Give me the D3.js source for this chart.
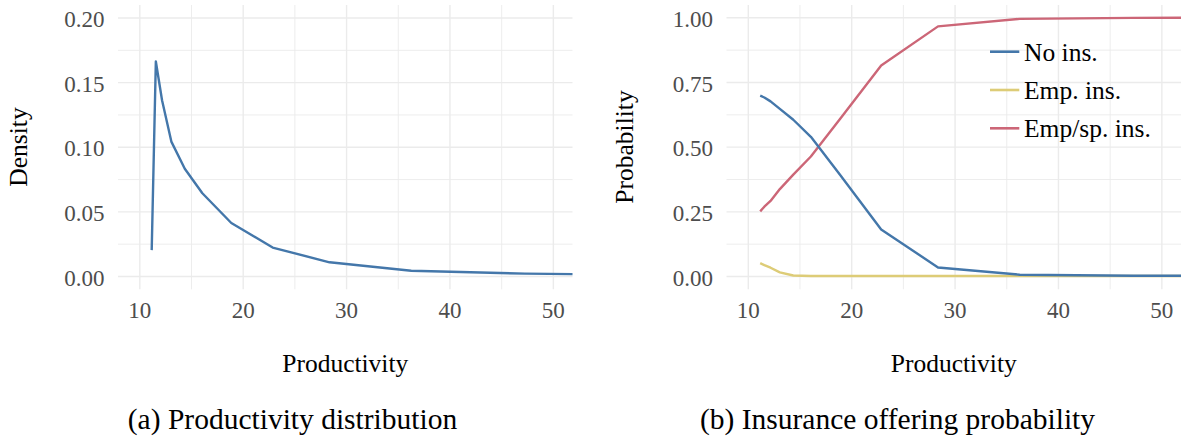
<!DOCTYPE html>
<html>
<head>
<meta charset="utf-8">
<script src="https://cdn.jsdelivr.net/npm/d3@7"></script>
<style>
  body { margin: 0; background: #fff; }
  svg text { font-family: "Liberation Serif", "DejaVu Serif", serif; font-variant-numeric: oldstyle-nums; }
</style>
</head>
<body>
<div id="chart"></div>
<script>
// Productivity grid (shared by both panels)
const productivity = [11.2, 11.6, 12.2, 13.1, 14.4, 16.1, 18.9, 22.9, 28.4, 36.3, 47.3, 63.0];

// Panel (a): density
const density = [0.020, 0.166, 0.136, 0.104, 0.083, 0.064, 0.041, 0.022, 0.0106, 0.0041, 0.0018, 0.0007];

// Panel (b): offering probabilities
const seriesNames = ['No ins.', 'Emp. ins.', 'Emp/sp. ins.'];
const noIns = [0.697, 0.690, 0.675, 0.646, 0.604, 0.538, 0.392, 0.180, 0.033, 0.005, 0.001, 0.000];
const empIns = [0.050, 0.042, 0.032, 0.014, 0.002, 0.000, 0.000, 0.000, 0.000, 0.000, 0.000, 0.000];
const empSpIns = [0.250, 0.268, 0.290, 0.336, 0.392, 0.462, 0.606, 0.814, 0.965, 0.994, 0.998, 0.999];

const xTicks = [10, 20, 30, 40, 50];
const xMinor = [15, 25, 35, 45];
const densityTicks = [0, 0.05, 0.10, 0.15, 0.20];
const densityMinor = [0.025, 0.075, 0.125, 0.175];
const probTicks = [0, 0.25, 0.5, 0.75, 1.0];
const probMinor = [0.125, 0.375, 0.625, 0.875];

const captions = ['(a) Productivity distribution', '(b) Insurance offering probability'];

const Theme = {
  blue: '#4477AA',
  yellow: '#DDCC77',
  red: '#CC6677',
  grid: '#EBEBEB',
  tick: '#4D4D4D',
  font: '"Liberation Serif", "DejaVu Serif", serif'
};

const width = 1182, height = 437;
const svg = d3.select('#chart').append('svg')
  .attr('width', width)
  .attr('height', height);

/**
 * Draws one panel with grid, axes, and titles.
 */
function drawPanel(opts) {
  const x = d3.scaleLinear().domain([7.94, 51.9]).range([0, opts.w]);
  const y = d3.scaleLinear().domain(opts.yDomain).range([opts.h, 0]);

  const g = svg.append('g')
      .attr('transform', `translate(${opts.left}, ${opts.top})`);

  // Minor grid
  g.append('g')
      .call(d3.axisLeft(y).tickValues(opts.yMinor).tickSize(-opts.w).tickFormat(''))
      .call(a => a.select('.domain').remove())
      .selectAll('line').attr('stroke', Theme.grid).attr('stroke-width', 0.9);
  g.append('g')
      .attr('transform', `translate(0, ${opts.h})`)
      .call(d3.axisBottom(x).tickValues(xMinor).tickSize(-opts.h).tickFormat(''))
      .call(a => a.select('.domain').remove())
      .selectAll('line').attr('stroke', Theme.grid).attr('stroke-width', 0.9);

  // Major grid
  g.append('g')
      .call(d3.axisLeft(y).tickValues(opts.yTicks).tickSize(-opts.w).tickFormat(''))
      .call(a => a.select('.domain').remove())
      .selectAll('line').attr('stroke', Theme.grid).attr('stroke-width', 1.4);
  g.append('g')
      .attr('transform', `translate(0, ${opts.h})`)
      .call(d3.axisBottom(x).tickValues(xTicks).tickSize(-opts.h).tickFormat(''))
      .call(a => a.select('.domain').remove())
      .selectAll('line').attr('stroke', Theme.grid).attr('stroke-width', 1.4);

  // Tick labels
  g.append('g')
      .attr('font-family', Theme.font)
      .call(d3.axisLeft(y).tickValues(opts.yTicks).tickSize(0).tickPadding(13.5).tickFormat(d3.format('.2f')))
      .attr('font-family', Theme.font)
      .call(a => a.select('.domain').remove())
      .selectAll('text')
        .attr('dy', '0.4em')
        .attr('fill', Theme.tick)
        .style('font-family', Theme.font)
        .style('font-size', '23px');
  g.append('g')
      .attr('transform', `translate(0, ${opts.h})`)
      .call(d3.axisBottom(x).tickValues(xTicks).tickSize(0).tickPadding(12))
      .attr('font-family', Theme.font)
      .call(a => a.select('.domain').remove())
      .selectAll('text')
        .attr('fill', Theme.tick)
        .style('font-family', Theme.font)
        .style('font-size', '23px');

  // Axis titles
  g.append('text')
      .attr('x', opts.w / 2)
      .attr('y', 371.5 - opts.top)
      .attr('text-anchor', 'middle')
      .style('font-size', '25.5px')
      .text('Productivity');
  g.append('text')
      .attr('transform', `translate(${opts.yTitleX - opts.left}, ${147 - opts.top}) rotate(-90)`)
      .attr('text-anchor', 'middle')
      .style('font-size', '25.5px')
      .text(opts.yTitle);

  // Caption
  svg.append('text')
      .attr('x', opts.captionX)
      .attr('y', 429)
      .attr('text-anchor', 'middle')
      .style('font-size', '29.5px')
      .text(opts.caption);

  // Clip
  g.append('clipPath')
      .attr('id', opts.id + '-clip')
    .append('rect')
      .attr('width', opts.w)
      .attr('height', opts.h);

  const plot = g.append('g').attr('clip-path', `url(#${opts.id}-clip)`);
  return {x, y, g, plot};
}

// Panel (a)
const pa = drawPanel({
  id: 'pa', left: 118, top: 5, w: 454.5, h: 284.3,
  yDomain: [-0.0103, 0.2097], yTicks: densityTicks, yMinor: densityMinor,
  yTitle: 'Density', yTitleX: 26.5,
  caption: captions[0], captionX: 292.5
});

const lineA = d3.line()
  .x((d, i) => pa.x(productivity[i]))
  .y(d => pa.y(d));

pa.plot.append('path')
    .datum(density)
    .attr('d', lineA)
    .attr('fill', 'none')
    .attr('stroke', Theme.blue)
    .attr('stroke-width', 2.4)
    .attr('stroke-linejoin', 'round');

// Panel (b)
const pb = drawPanel({
  id: 'pb', left: 726.5, top: 5, w: 454.5, h: 284.3,
  yDomain: [-0.0514, 1.0476], yTicks: probTicks, yMinor: probMinor,
  yTitle: 'Probability', yTitleX: 633,
  caption: captions[1], captionX: 897.5
});

const seriesValues = [noIns, empIns, empSpIns];
const seriesColors = [Theme.blue, Theme.yellow, Theme.red];

const lineB = d3.line()
  .x((d, i) => pb.x(productivity[i]))
  .y(d => pb.y(d));

// Draw yellow first so red and blue sit on top
[1, 2, 0].forEach(k => {
  pb.plot.append('path')
      .datum(seriesValues[k])
      .attr('d', lineB)
      .attr('fill', 'none')
      .attr('stroke', seriesColors[k])
      .attr('stroke-width', 2.4)
      .attr('stroke-linejoin', 'round');
});

// Legend
const legend = svg.append('g').attr('transform', 'translate(990, 51.7)');
seriesNames.forEach((name, i) => {
  const row = legend.append('g').attr('transform', `translate(0, ${i * 38.3})`);
  row.append('line')
      .attr('x1', 0).attr('x2', 29.3)
      .attr('stroke', seriesColors[i])
      .attr('stroke-width', 2.6);
  row.append('text')
      .attr('x', 34)
      .attr('y', 9)
      .style('font-size', '25.5px')
      .text(name);
});
</script>
</body>
</html>
